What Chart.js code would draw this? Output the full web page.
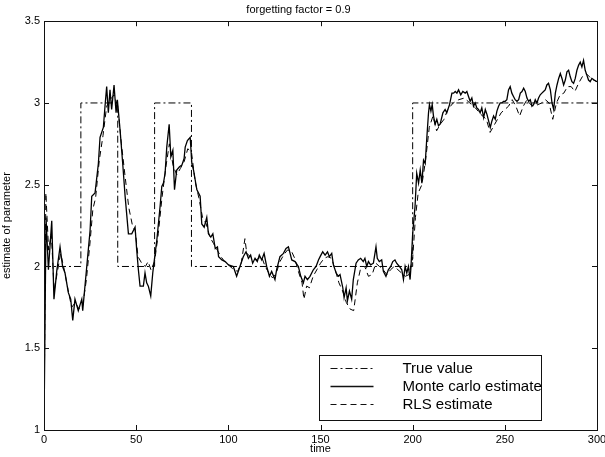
<!DOCTYPE html>
<html>
<head>
<meta charset="utf-8">
<script src="https://cdn.jsdelivr.net/npm/chart.js@4.4.0/dist/chart.umd.min.js"></script>
<style>
  html, body { margin: 0; padding: 0; background: #fff; }
  #wrap { width: 605px; height: 457px; }
</style>
</head>
<body>
<div id="wrap"><canvas id="chartCanvas" width="605" height="457"></canvas></div>
<script>
// true parameter (step changes)
var trueTime = [0, 20, 20, 40, 40, 60, 60, 80, 80, 200, 200, 300]
var trueValue = [2, 2, 3, 3, 2, 2, 3, 3, 2, 2, 3, 3]

// Monte carlo estimate
var mcTime = [0, 1.1, 2.4, 4.2, 5.4, 6.9, 8.7, 10.1, 11.4, 13.2, 14.5, 15.6, 16.8, 18.6, 20.5, 21.0, 23.2, 25.0, 25.9, 27.7,
  29.5, 30.4, 32.2, 33.1, 34.0, 34.9, 35.8, 36.7, 38.0, 39.1, 39.8, 41.3, 42.7, 44.0, 45.8, 47.6, 49.4, 50.3, 51.2, 52.1,
  53.9, 54.8, 55.7, 56.6, 57.9, 59.0, 60.3, 61.2, 63.0, 63.9, 64.8, 65.7, 66.6, 67.9, 68.8, 69.9, 70.8, 72.0, 73.5, 74.8,
  76.0, 76.6, 77.8, 79.3, 80.2, 81.1, 82.9, 84.7, 85.6, 86.9, 88.3, 89.2, 90.5, 91.6, 92.9, 94.1, 94.7, 96.5, 98.3, 100.1,
  102.7, 104.5, 106.3, 108.1, 109.6, 110.9, 112.1, 113.2, 114.5, 115.7, 116.8, 118.1, 119.4, 120.8, 122.3, 123.5, 125.3, 126.2, 128.0, 129.9,
  131.3, 132.6, 133.5, 134.4, 136.2, 138.0, 139.3, 140.7, 141.6, 142.9, 144.3, 146.1, 147.6, 148.9, 149.8, 151.2, 152.5, 153.8, 154.8, 156.1,
  157.0, 158.5, 159.7, 160.6, 162.1, 162.8, 163.9, 164.6, 165.7, 166.9, 167.8, 169.3, 170.5, 171.8, 173.2, 174.1, 175.1, 176.0, 177.2, 178.7,
  180.1, 180.8, 181.9, 183.2, 184.1, 185.5, 186.8, 188.1, 189.2, 190.4, 191.3, 192.8, 194.1, 195.0, 195.9, 196.8, 197.7, 198.6, 199.1, 200.0,
  201.3, 202.2, 203.2, 204.1, 205.0, 205.9, 206.8, 207.7, 208.6, 209.1, 209.9, 210.6, 211.3, 212.2, 213.1, 214.0, 214.9, 216.4, 217.6, 218.5,
  220.0, 221.3, 222.2, 223.1, 224.0, 224.9, 226.1, 227.2, 228.5, 229.4, 230.3, 231.2, 232.1, 233.0, 233.9, 234.8, 235.7, 236.6, 237.5, 238.5,
  239.4, 240.3, 241.2, 242.1, 243.0, 243.9, 244.8, 245.7, 246.6, 247.5, 248.4, 249.3, 250.2, 251.1, 252.0, 252.9, 253.8, 254.7, 255.6, 256.6,
  257.5, 258.4, 259.3, 260.2, 261.1, 262.0, 262.9, 263.8, 264.7, 265.6, 266.5, 267.4, 268.3, 269.2, 270.1, 271.0, 271.9, 272.8, 273.7, 274.7,
  275.6, 276.5, 277.4, 278.3, 279.2, 280.1, 281.0, 281.9, 282.8, 283.7, 284.6, 285.5, 286.4, 287.3, 288.2, 289.1, 290.0, 290.9, 291.8, 292.7,
  293.6, 294.5, 295.4, 296.3, 297.2, 298.5, 300]
var mcValue = [1.0, 2.30, 1.98, 2.28, 1.80, 1.97, 2.12, 2.00, 1.96, 1.84, 1.80, 1.67, 1.80, 1.73, 1.80, 1.73, 2.00, 2.22, 2.43, 2.45,
  2.63, 2.79, 2.85, 2.98, 3.10, 2.94, 3.08, 2.96, 3.11, 2.94, 3.02, 2.83, 2.63, 2.43, 2.20, 2.20, 2.24, 2.10, 1.98, 1.88,
  1.88, 1.96, 1.90, 1.88, 1.82, 1.96, 2.08, 2.16, 2.37, 2.49, 2.51, 2.57, 2.73, 2.87, 2.67, 2.71, 2.47, 2.59, 2.61, 2.62,
  2.66, 2.73, 2.77, 2.79, 2.63, 2.59, 2.47, 2.43, 2.26, 2.24, 2.30, 2.20, 2.18, 2.20, 2.11, 2.12, 2.06, 2.04, 2.03, 2.01,
  2.00, 1.94, 2.00, 2.06, 2.09, 2.05, 2.07, 2.02, 2.05, 2.03, 2.07, 2.04, 2.08, 2.00, 1.94, 1.97, 1.92, 1.98, 2.06, 2.08,
  2.11, 2.12, 2.08, 2.04, 2.03, 2.00, 1.94, 1.90, 1.94, 1.92, 1.94, 1.98, 2.00, 2.04, 2.06, 2.09, 2.07, 2.09, 2.06, 2.08,
  2.01, 1.96, 1.94, 1.95, 1.87, 1.81, 1.87, 1.79, 1.85, 1.80, 1.92, 2.02, 2.04, 2.05, 2.03, 2.05, 2.00, 2.03, 2.01, 2.02,
  2.12, 2.05, 2.03, 2.04, 1.97, 1.94, 1.98, 2.00, 2.03, 2.04, 2.02, 2.00, 1.98, 1.92, 2.00, 1.96, 2.00, 1.92, 2.00, 2.20,
  2.37, 2.57, 2.51, 2.59, 2.51, 2.65, 2.63, 2.79, 2.94, 2.99, 2.95, 2.99, 2.92, 2.87, 2.90, 2.86, 2.87, 2.94, 2.96, 2.94,
  2.99, 3.06, 3.06, 3.07, 3.06, 3.08, 3.05, 3.07, 3.06, 3.07, 3.04, 3.01, 3.03, 2.98, 3.00, 2.97, 2.96, 2.94, 2.97, 2.91,
  2.96, 2.93, 2.89, 2.85, 2.89, 2.92, 2.90, 2.95, 2.98, 3.00, 3.00, 3.01, 3.01, 3.02, 3.08, 3.10, 3.06, 3.04, 3.02, 3.01,
  3.02, 3.06, 3.07, 3.09, 3.07, 3.03, 3.01, 3.02, 2.98, 2.99, 3.02, 3.00, 3.03, 3.05, 3.06, 3.07, 3.08, 3.11, 3.12, 3.08,
  3.00, 2.96, 3.06, 3.11, 3.15, 3.18, 3.15, 3.11, 3.14, 3.19, 3.20, 3.16, 3.13, 3.12, 3.15, 3.20, 3.23, 3.25, 3.22, 3.26,
  3.20, 3.17, 3.14, 3.13, 3.15, 3.14, 3.13]

// RLS estimate
var rlsTime = [0, 1, 2.5, 4, 5.5, 7, 9, 11, 13, 15, 17, 19, 21, 23, 25, 26.5, 28, 30, 32, 34,
  36, 38, 40, 42, 44, 46, 48, 49.5, 51, 53, 55, 56.5, 58, 60, 62, 64, 66, 68, 70, 72,
  74, 76, 78, 80, 82, 84, 86, 88, 90, 92, 94, 96, 98, 100, 103, 105, 107, 109, 110, 112,
  115, 118, 120, 122, 124, 126, 128, 130, 132, 134, 136, 138, 140, 141, 142.5, 144, 146, 148, 150, 152,
  154, 156, 158, 160, 162, 164, 166, 168, 170, 172, 174, 176, 178, 180, 182, 184, 186, 188, 190, 192,
  194, 196, 198, 200, 201.5, 203, 205, 207, 209, 211, 213, 215, 217, 219, 222, 225, 228, 231, 234, 237,
  240, 242, 244, 246, 248, 250, 252, 254, 256, 258, 260, 262, 264, 266, 268, 270, 272, 274, 276, 278,
  280, 282, 284, 286, 288, 290, 292, 294, 296, 298, 300]
var rlsValue = [1.0, 2.45, 2.10, 2.20, 1.85, 1.95, 2.08, 1.98, 1.86, 1.75, 1.78, 1.74, 1.76, 1.92, 2.15, 2.35, 2.42, 2.65, 2.80, 2.98,
  3.02, 3.05, 2.98, 2.75, 2.55, 2.36, 2.25, 2.22, 2.06, 2.02, 2.00, 2.03, 1.98, 2.03, 2.20, 2.42, 2.60, 2.75, 2.62, 2.56,
  2.60, 2.64, 2.72, 2.70, 2.52, 2.42, 2.30, 2.26, 2.18, 2.14, 2.10, 2.06, 2.03, 2.01, 1.98, 1.97, 2.02, 2.17, 2.08, 2.06,
  2.04, 2.06, 2.00, 1.96, 1.93, 1.96, 2.03, 2.07, 2.10, 2.10, 2.05, 1.97, 1.90, 1.80, 1.88, 1.87, 1.94, 1.98, 2.02, 2.05,
  2.06, 2.05, 1.98, 1.90, 1.85, 1.78, 1.74, 1.73, 1.90, 2.00, 2.00, 1.94, 1.95, 2.02, 2.00, 1.98, 1.95, 1.98, 2.00, 1.98,
  1.96, 1.94, 1.95, 2.05, 2.30, 2.45, 2.50, 2.65, 2.85, 2.92, 2.83, 2.87, 2.90, 2.96, 3.00, 3.02, 3.03, 3.00, 2.97, 2.93,
  2.90, 2.82, 2.86, 2.90, 2.94, 2.96, 2.98, 3.02, 2.98, 2.92, 2.98, 3.02, 2.99, 2.98, 2.99, 3.00, 3.02, 3.00, 2.90, 3.00,
  3.05, 3.06, 3.10, 3.10, 3.07, 3.12, 3.16, 3.18, 3.16, 3.14, 3.13]

var xTickStep = 50
var yTickStep = 0.5

function toPoints(xs, ys) {
  return xs.map(function (x, i) { return { x: x, y: ys[i] } })
}

// matlab style box, inward ticks and legend inside the axes
var frameAndLegend = {
  id: 'frameAndLegend',
  afterDatasetsDraw: function (chart, args, opts) {
    var ctx = chart.ctx
    var a = chart.chartArea
    var xs = chart.scales.x
    var ys = chart.scales.y
    ctx.save()
    ctx.strokeStyle = '#111'
    ctx.lineWidth = 1
    ctx.setLineDash([])
    ctx.strokeRect(Math.round(a.left) + 0.5, Math.round(a.top) + 0.5, Math.round(a.right - a.left), Math.round(a.bottom - a.top))
    ctx.beginPath()
    xs.ticks.forEach(function (t) {
      var px = Math.round(xs.getPixelForValue(t.value)) + 0.5
      ctx.moveTo(px, a.bottom); ctx.lineTo(px, a.bottom - 5)
      ctx.moveTo(px, a.top); ctx.lineTo(px, a.top + 5)
    })
    ys.ticks.forEach(function (t) {
      var py = Math.round(ys.getPixelForValue(t.value)) + 0.5
      ctx.moveTo(a.left, py); ctx.lineTo(a.left + 5, py)
      ctx.moveTo(a.right, py); ctx.lineTo(a.right - 5, py)
    })
    ctx.stroke()

    // legend box
    var bx = Math.round(a.right - opts.right - opts.width) + 0.5
    var by = Math.round(a.bottom - opts.bottom - opts.height) + 0.5
    ctx.fillStyle = '#fff'
    ctx.fillRect(bx, by, opts.width, opts.height)
    ctx.strokeRect(bx, by, opts.width, opts.height)
    ctx.font = opts.font
    ctx.fillStyle = '#000'
    ctx.textBaseline = 'middle'
    chart.data.datasets.forEach(function (ds, i) {
      var ly = Math.round(by + opts.firstRow + i * opts.rowGap) + 0.5
      ctx.beginPath()
      ctx.setLineDash(ds.borderDash || [])
      ctx.lineWidth = ds.borderWidth
      ctx.moveTo(bx + opts.sampleLeft, ly)
      ctx.lineTo(bx + opts.sampleLeft + opts.sampleWidth, ly)
      ctx.stroke()
      ctx.setLineDash([])
      ctx.fillText(ds.label, bx + opts.textLeft, ly)
    })
    ctx.restore()
  }
}

var ctx = document.getElementById('chartCanvas').getContext('2d')
Chart.defaults.font.family = '"Liberation Sans", Arial, Helvetica, sans-serif'
Chart.defaults.color = '#000'

var chart = new Chart(ctx, {
  type: 'line',
  data: {
    datasets: [
      {
        label: 'True value',
        data: toPoints(trueTime, trueValue),
        borderColor: '#000',
        borderWidth: 1,
        borderDash: [7, 3, 2, 3],
        pointRadius: 0,
        tension: 0
      },
      {
        label: 'Monte carlo estimate',
        data: toPoints(mcTime, mcValue),
        borderColor: '#000',
        borderWidth: 1.3,
        pointRadius: 0,
        tension: 0
      },
      {
        label: 'RLS estimate',
        data: toPoints(rlsTime, rlsValue),
        borderColor: '#000',
        borderWidth: 1,
        borderDash: [6, 4],
        pointRadius: 0,
        tension: 0
      }
    ]
  },
  options: {
    responsive: false,
    animation: false,
    layout: {
      padding: { left: 0, right: 8, top: 0, bottom: 0 }
    },
    plugins: {
      legend: { display: false },
      tooltip: { enabled: false },
      title: {
        display: true,
        text: 'forgetting factor = 0.9',
        font: { size: 11, weight: 'normal' },
        padding: { top: 3, bottom: 5 }
      },
      frameAndLegend: {
        width: 222,
        height: 65,
        right: 56,
        bottom: 10,
        firstRow: 12,
        rowGap: 18.3,
        sampleLeft: 11,
        sampleWidth: 43,
        textLeft: 83,
        font: '15px "Liberation Sans", Arial, sans-serif'
      }
    },
    scales: {
      x: {
        type: 'linear',
        min: 0,
        max: 300,
        ticks: { stepSize: xTickStep, font: { size: 11 }, padding: 3, maxRotation: 0 },
        grid: { display: false, drawTicks: false },
        border: { display: false },
        title: { display: true, text: 'time', font: { size: 11 }, padding: { top: 0, bottom: 1 } },
        afterFit: function (scale) {
          scale.height = 27
          scale.paddingLeft = 0
          scale.paddingRight = 0
        }
      },
      y: {
        type: 'linear',
        min: 1,
        max: 3.5,
        ticks: {
          stepSize: yTickStep,
          font: { size: 11 },
          padding: 4,
          callback: function (value) { return String(value) }
        },
        grid: { display: false, drawTicks: false },
        border: { display: false },
        title: { display: true, text: 'estimate of parameter', font: { size: 11 }, padding: { top: 0, bottom: 2 } },
        afterFit: function (scale) { scale.width = 44 }
      }
    }
  },
  plugins: [frameAndLegend]
})
</script>
</body>
</html>
